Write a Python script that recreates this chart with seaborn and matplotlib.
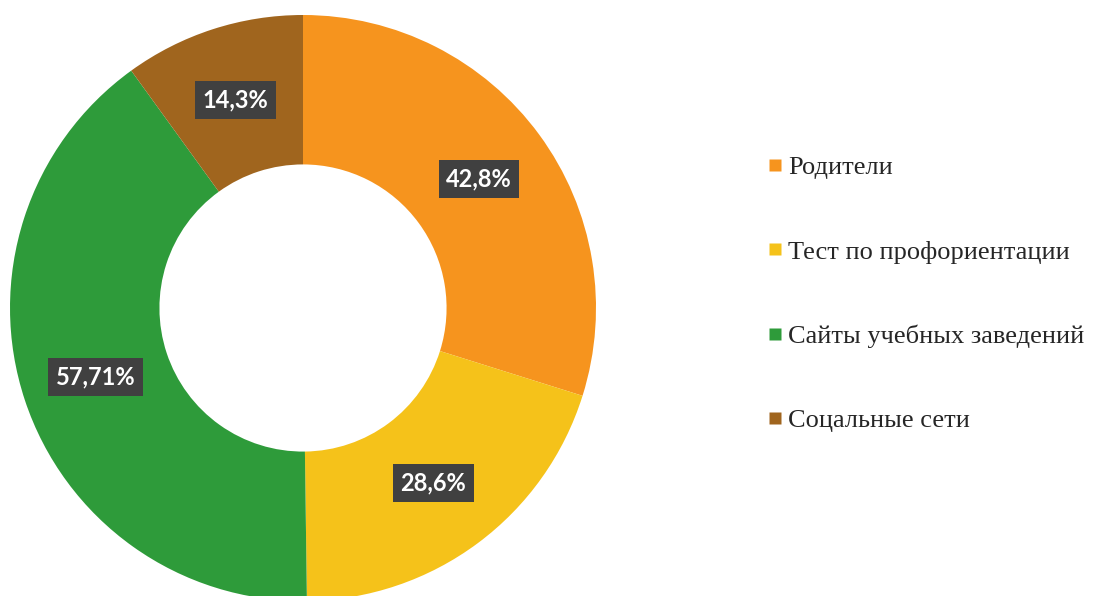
import seaborn as sns
import matplotlib.pyplot as plt
from matplotlib.lines import Line2D
import numpy as np

categories = ["Родители", "Тест по профориентации", "Сайты учебных заведений", "Соцальные сети"]
values = [42.8, 28.6, 57.71, 14.3]
value_labels = ["42,8%", "28,6%", "57,71%", "14,3%"]
colors = ["#F6941E", "#F5C21A", "#2E9B3A", "#A0651E"]

sns.set_theme(style="white")

fig = plt.figure(figsize=(10.93, 5.96), dpi=100)
# pie centre at (303, 308) px, radius 293 px
R = 293
ax = fig.add_axes([(303 - R) / 1093, (288 - R) / 596, 2 * R / 1093, 2 * R / 596])

hole = 0.49
wedges, _ = ax.pie(
    values,
    colors=colors,
    startangle=90,
    counterclock=False,
    radius=1,
    wedgeprops=dict(width=1 - hole, edgecolor="none"),
)
ax.set_xlim(-1, 1)
ax.set_ylim(-1, 1)
ax.set_aspect("equal")
ax.axis("off")

# value boxes in the middle of each ring segment
r_mid = (1 + hole) / 2
for w, lab in zip(wedges, value_labels):
    ang = np.deg2rad((w.theta1 + w.theta2) / 2)
    ax.text(
        r_mid * np.cos(ang), r_mid * np.sin(ang), lab,
        ha="center", va="center", color="white", fontsize=17,
        fontweight="bold", family=["Lato", "DejaVu Sans"],
        bbox=dict(boxstyle="square,pad=0.32", facecolor="#404040", edgecolor="none"),
    )

handles = [
    Line2D([], [], marker="s", linestyle="none", markersize=9.3,
           markerfacecolor=c, markeredgecolor="none")
    for c in colors
]
fig.legend(
    handles, categories,
    loc="center left", bbox_to_anchor=(768 / 1093, 1 - 294 / 596),
    frameon=False, handlelength=0.5, handletextpad=0.25,
    labelspacing=2.3, borderpad=0, borderaxespad=0,
    prop=dict(family="Liberation Serif", size=19),
)

fig.savefig("out.png", dpi=100)
